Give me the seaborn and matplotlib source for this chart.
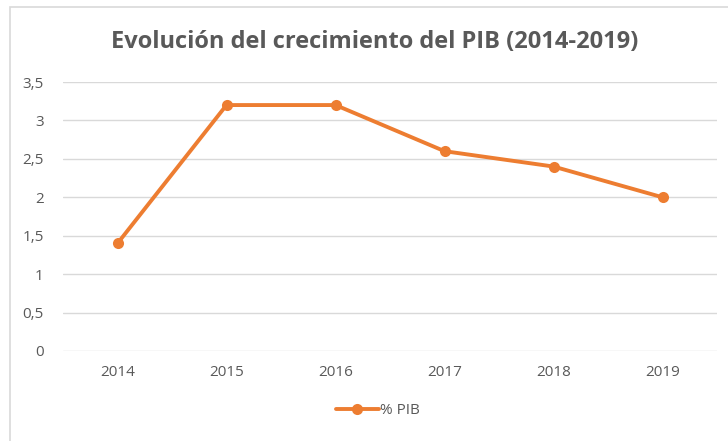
import matplotlib
matplotlib.use("Agg")
import matplotlib.pyplot as plt
import seaborn as sns
import pandas as pd
from matplotlib.patches import Rectangle
from matplotlib.ticker import FuncFormatter

years = ["2014", "2015", "2016", "2017", "2018", "2019"]
pib = [1.4, 3.2, 3.2, 2.6, 2.4, 2.0]
series_name = "% PIB"
title = "Evolución del crecimiento del PIB (2014-2019)"
yticks = [0, 0.5, 1, 1.5, 2, 2.5, 3, 3.5]

sns.set_theme(style="white")
plt.rcParams['font.family'] = ['Open Sans', 'DejaVu Sans']

df = pd.DataFrame({"year": years, "value": pib, "serie": series_name})

fig = plt.figure(figsize=(7.28, 4.41), dpi=100)
ax = fig.add_axes([63/728, 1-351/441, 654/728, (351-82)/441])

orange = "#ED7D31"
grey_txt = "#595959"

sns.lineplot(data=df, x="year", y="value", hue="serie", palette=[orange],
             marker="o", markersize=8, linewidth=2.8, markeredgewidth=0,
             ax=ax, sort=False)

ax.set_xlim(-0.5, 5.5)
ax.set_ylim(0, 3.5)
ax.set_yticks(yticks)
ax.yaxis.set_major_formatter(FuncFormatter(lambda v, p: (f"{v:g}").replace(".", ",")))
ax.grid(axis="y", color="#D9D9D9", linewidth=1)
ax.set_axisbelow(True)
for s in ax.spines.values():
    s.set_visible(False)
ax.set_xlabel("")
ax.set_ylabel("")
ax.tick_params(axis="both", colors=grey_txt, labelsize=11, length=0)
ax.tick_params(axis="y", pad=14)
ax.tick_params(axis="x", pad=10)

leg = ax.legend(loc="center", bbox_to_anchor=((378-63)/654, (1-411/441 - (1-351/441)) / ((351-82)/441)),
                frameon=False, fontsize=11, handlelength=2.8, handletextpad=0.1,
                labelcolor=grey_txt)

fig.text(375/728, 1-42/441, title, ha="center", va="center", fontsize=17,
         color=grey_txt, fontweight="bold")

fig.patches.append(Rectangle((10/728, -0.05), 1.0, 1-7/441+0.05, transform=fig.transFigure,
                             fill=False, edgecolor="#D9D9D9", linewidth=1.2, clip_on=False))

fig.savefig("out.png", dpi=100)
